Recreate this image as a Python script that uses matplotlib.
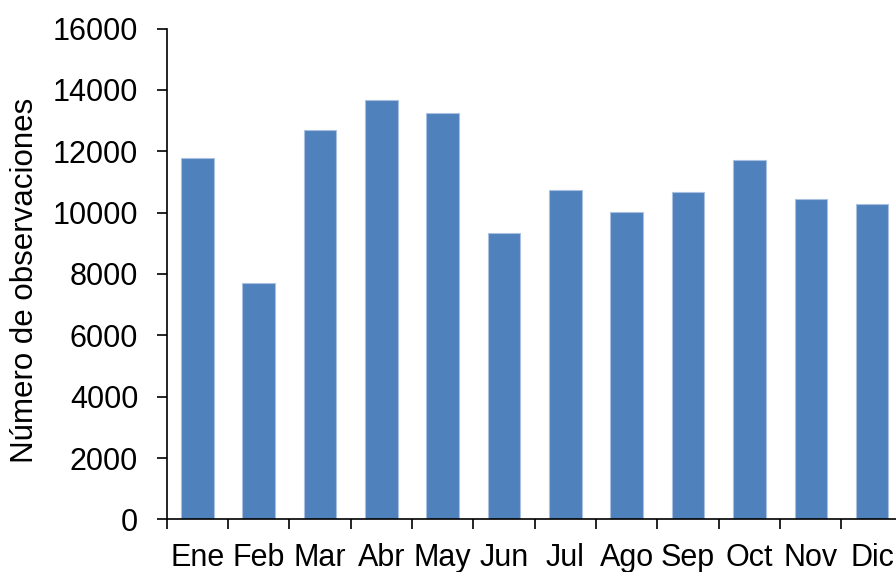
import numpy as np
import matplotlib.pyplot as plt

plt.rcParams["font.family"] = ["Liberation Sans", "DejaVu Sans"]

meses = ["Ene", "Feb", "Mar", "Abr", "May", "Jun",
         "Jul", "Ago", "Sep", "Oct", "Nov", "Dic"]
observaciones = [11770, 7700, 12700, 13680, 13240, 9350,
                 10740, 10020, 10670, 11720, 10450, 10280]

fig = plt.figure(figsize=(8.96, 5.72), dpi=100)
ax = fig.add_axes([0.186, 0.092, 0.8216, 0.858])

x = np.arange(len(meses))
ax.bar(x, observaciones, width=0.53, color="#4F81BD",
       edgecolor="#A9C0E0", linewidth=0.8)

ax.set_xlim(-0.5, len(meses) - 0.5)
ax.set_ylim(0, 16000)
ax.set_yticks(np.arange(0, 16001, 2000))

ax.set_xticks(x)
ax.set_xticklabels(meses)
ax.set_xticks(np.arange(-0.5, len(meses), 1), minor=True)
ax.tick_params(axis="x", which="major", length=0, pad=17, labelsize=22)
ax.tick_params(axis="x", which="minor", length=7.5, width=1.2, direction="out")
ax.tick_params(axis="y", length=7.5, width=1.2, direction="out", pad=13, labelsize=22)

for s in ["top", "right"]:
    ax.spines[s].set_visible(False)
for s in ["left", "bottom"]:
    ax.spines[s].set_linewidth(1.2)

ax.set_ylabel("Número de observaciones", fontsize=22.5)
ax.yaxis.set_label_coords(-0.172, 0.487)

fig.savefig("out.png", dpi=100)
